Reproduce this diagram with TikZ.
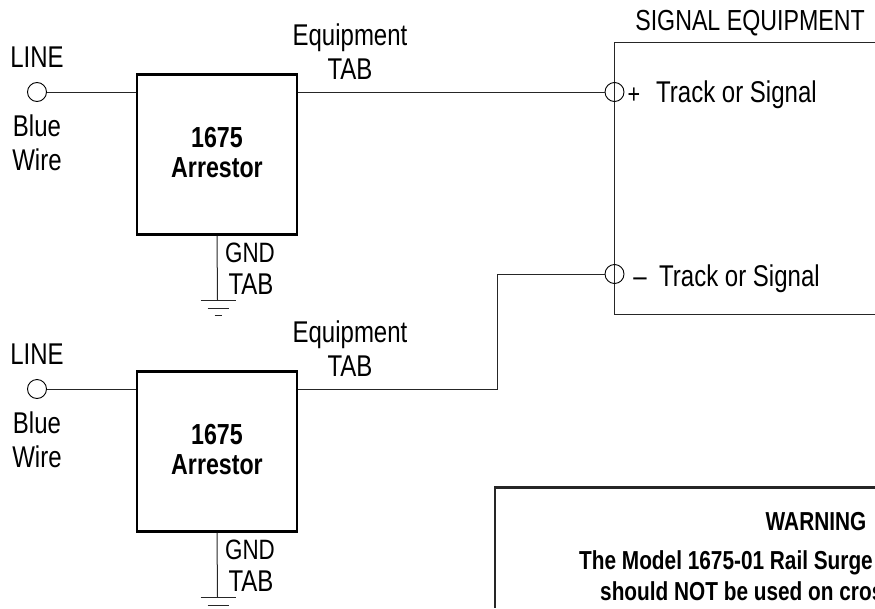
\documentclass[tikz,border=0pt]{standalone}
\usepackage{fontspec}
\setmainfont[FakeStretch=0.8]{Liberation Sans}
\usepackage{tikz}
\tikzset{%
  label text/.style={
    inner sep=0pt,
    anchor=base,
    font=\fontsize{30}{32}\selectfont
  },
  gnd text/.style={
    label text,
    font=\fontsize{28}{32}\selectfont
  },
  bold text/.style={
    label text,
    font=\fontsize{29}{32}\selectfont\bfseries
  },
  warning text/.style={
    label text,
    font=\fontsize{26}{30}\selectfont\bfseries
  },
  arrestor box/.style={
    rectangle,
    draw,
    line width=2.6pt,
    minimum width=160pt,
    minimum height=160pt,
    inner sep=0pt
  },
  terminal/.style={
    circle,
    draw,
    line width=0.9pt,
    minimum size=19pt,
    inner sep=0pt
  },
  wire/.style={line width=1pt, black!85},
}

\begin{document}
\begin{tikzpicture}[x=1pt, y=-1pt]
\useasboundingbox (0,0) rectangle (875,608);
% signal equipment
\draw[wire] (875,42) -- (614,42) -- (614,314) -- (875,314);
\node[gnd text, font=\fontsize{29}{32}\selectfont] (equip title) at (750,30) {SIGNAL EQUIPMENT};
\node[terminal] (plus) at (614.5,92) {};
\node[terminal] (minus) at (614.5,274) {};
\node[label text, font=\fontsize{27}{30}\selectfont] (plus sign) at (634,103) {+};
\node[label text, anchor=base west] (plus text) at (656,102) {Track or Signal};
\node[label text] (minus sign) at (640,286) {--};
\node[label text, anchor=base west] (minus text) at (659,286) {Track or Signal};
% two arrestors
\foreach \n/\y in {1/0,2/297}
    {\node[arrestor box] (arrestor_\n) at (217,154.5+\y) {};
    \node[bold text] (num_\n) at (217,147+\y) {1675};
    \node[bold text] (name_\n) at (217,177+\y) {Arrestor};
    \node[terminal] (line_\n) at (37,92+\y) {};
    \node[label text] (linetext_\n) at (37,67+\y) {LINE};
    \node[label text] (blue_\n) at (37,136+\y) {Blue};
    \node[label text] (bluewire_\n) at (37,170+\y) {Wire};
    \node[label text] (equip_\n) at (350,45+\y) {Equipment};
    \node[label text] (tab_\n) at (350,79+\y) {TAB};
    \node[gnd text] (gnd_\n) at (250,262+\y) {GND};
    \node[label text] (gndtab_\n) at (251,294+\y) {TAB};
    \coordinate (earth_\n) at (217.5,300+\y);
    \draw[wire] (line_\n) -- (line_\n -| arrestor_\n.west);
    \draw[wire] (arrestor_\n.south) -- (earth_\n);
    \draw[wire] ([xshift=-17pt]earth_\n) -- ([xshift=18pt]earth_\n);
    \draw[wire] ([shift={(-10pt,-8pt)}]earth_\n) -- ([shift={(11pt,-8pt)}]earth_\n);
    \draw[wire] ([shift={(-3pt,-15pt)}]earth_\n) -- ([shift={(4pt,-15pt)}]earth_\n);}
% connections
\draw[wire] (arrestor_1.east |- plus) -- (plus);
\draw[wire] (arrestor_2.east |- line_2) -| (497,274) -- (minus);
% warning
\draw[line width=2.2pt, black!85] (875,487.5) -- (495,487.5) -- (495,608);
\node[warning text] (warn title) at (816,530) {WARNING};
\node[warning text, anchor=base west] (warn one) at (579,569) {The Model 1675-01 Rail Surge};
\node[warning text, anchor=base west] (warn two) at (600,600) {should NOT be used on cross};
\end{tikzpicture}
\end{document}
